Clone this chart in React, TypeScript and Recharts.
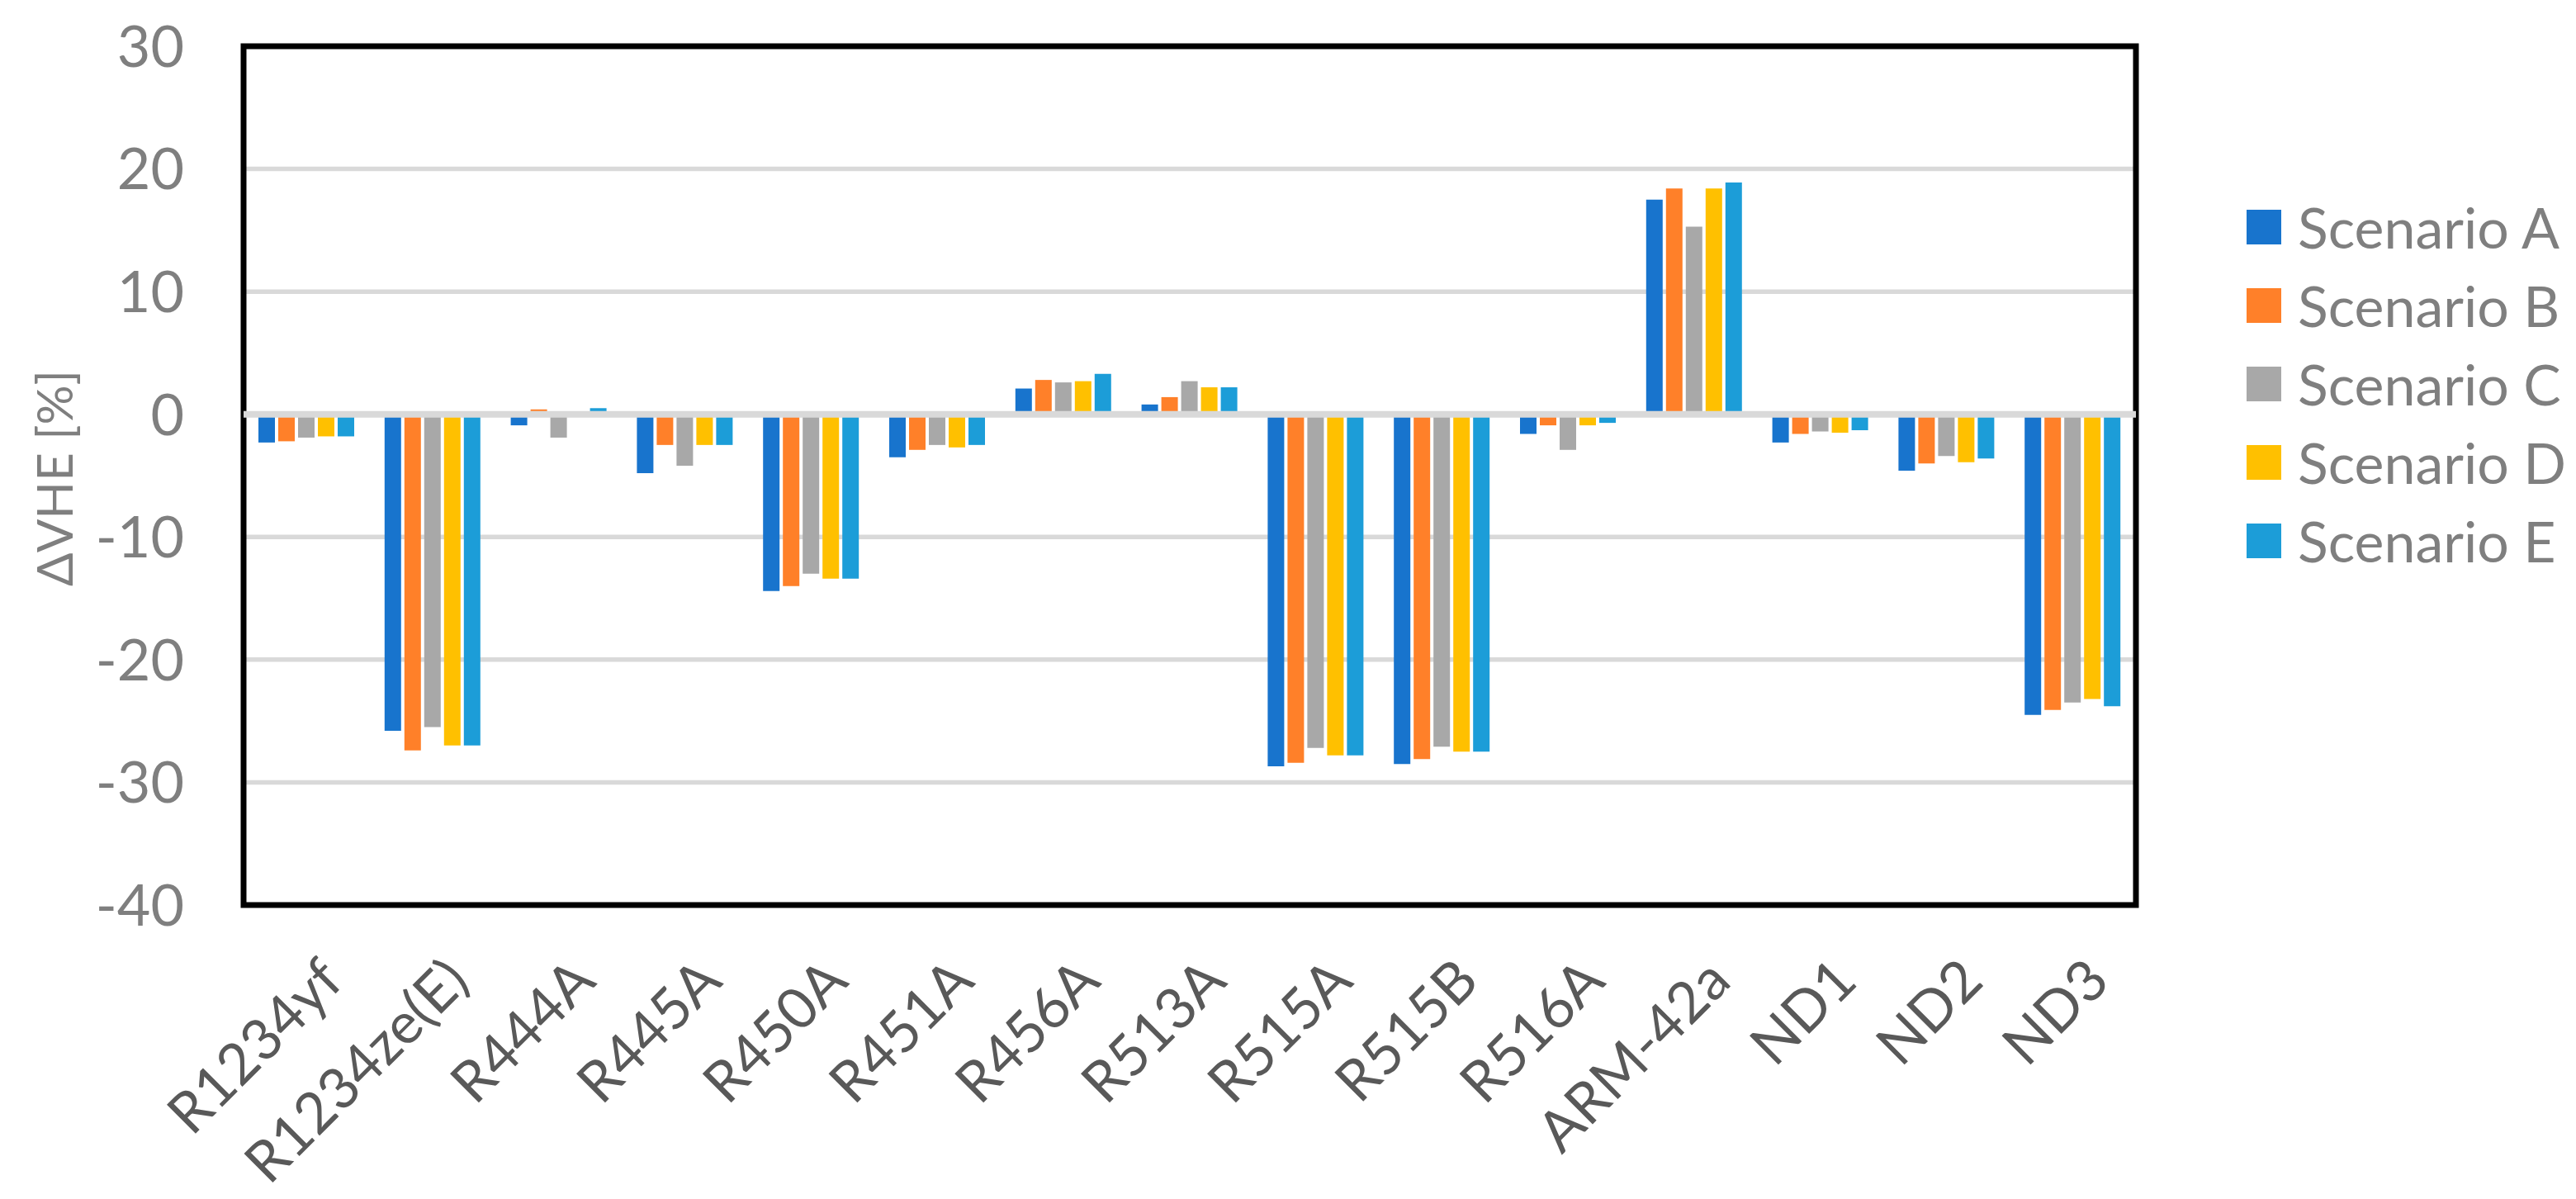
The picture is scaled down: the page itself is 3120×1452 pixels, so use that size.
import React from "react";
import {
    BarChart,
    Bar,
    XAxis,
    YAxis,
    CartesianGrid,
    ReferenceLine,
    ReferenceArea,
    Legend,
    Label,
} from "recharts";

// ---------------------------------------------------------------------------
// Data
// ---------------------------------------------------------------------------
const categories = [
    "R1234yf", "R1234ze(E)", "R444A", "R445A", "R450A", "R451A", "R456A", "R513A",
    "R515A", "R515B", "R516A", "ARM-42a", "ND1", "ND2", "ND3",
];
const scenarioA = [-2.3, -25.8, -0.9, -4.8, -14.4, -3.5, 2.1, 0.8, -28.7, -28.5, -1.6, 17.5, -2.3, -4.6, -24.5];
const scenarioB = [-2.2, -27.4, 0.4, -2.5, -14.0, -2.9, 2.8, 1.4, -28.4, -28.1, -0.9, 18.4, -1.6, -4.0, -24.1];
const scenarioC = [-1.9, -25.5, -1.9, -4.2, -13.0, -2.5, 2.6, 2.7, -27.2, -27.1, -2.9, 15.3, -1.4, -3.4, -23.5];
const scenarioD = [-1.8, -27.0, 0.2, -2.5, -13.4, -2.7, 2.7, 2.2, -27.8, -27.5, -0.9, 18.4, -1.5, -3.9, -23.2];
const scenarioE = [-1.8, -27.0, 0.5, -2.5, -13.4, -2.5, 3.3, 2.2, -27.8, -27.5, -0.7, 18.9, -1.3, -3.6, -23.8];
const yTicks = [-40, -30, -20, -10, 0, 10, 20, 30];

const SERIES = [
    { key: "a", name: "Scenario A", color: "#1874cd", values: scenarioA },
    { key: "b", name: "Scenario B", color: "#ff8029", values: scenarioB },
    { key: "c", name: "Scenario C", color: "#a8a8a8", values: scenarioC },
    { key: "d", name: "Scenario D", color: "#ffc000", values: scenarioD },
    { key: "e", name: "Scenario E", color: "#1c9dd8", values: scenarioE },
];

const chartData = categories.map((name, i) => {
    const row: Record<string, string | number> = { name };
    SERIES.forEach((s) => {
        row[s.key] = s.values[i];
    });
    return row;
});

const FONT = "Lato, 'Open Sans', sans-serif";

// rotated category labels, top-right corner sits near the category centre
const XTick = (props: any) => {
    const { x, y, payload } = props;
    const ax = x + 12;
    const ay = y + 60;
    return (
        <text
            x={ax}
            y={ay}
            dy="0.72em"
            textAnchor="end"
            transform={`rotate(-45, ${ax}, ${ay})`}
            fill="#595959"
            fontSize={69}
            fontFamily={FONT}
        >
            {payload.value}
        </text>
    );
};

const LegendContent = (props: any) => {
    const { payload = [] } = props;
    return (
        <div>
            {payload.map((entry: any) => (
                <div
                    key={entry.value}
                    style={{ display: "flex", alignItems: "center", height: 95 }}
                >
                    <span
                        style={{
                            display: "inline-block",
                            width: 42,
                            height: 42,
                            background: entry.color,
                            marginRight: 20,
                        }}
                    />
                    <span
                        style={{
                            fontFamily: FONT,
                            fontSize: 68,
                            color: "#7f7f7f",
                            lineHeight: "95px",
                            whiteSpace: "nowrap",
                        }}
                    >
                        {entry.value}
                    </span>
                </div>
            ))}
        </div>
    );
};

export default function App() {
    return (
        <div style={{ position: "absolute", left: 0, top: 0, background: "#fff" }}>
            <BarChart
                width={3120}
                height={1452}
                data={chartData}
                margin={{ top: 56, right: 533, left: 95, bottom: 0 }}
                barGap={4}
            >
                <CartesianGrid vertical={false} stroke="#d9d9d9" strokeWidth={5.5} />
                <XAxis
                    dataKey="name"
                    height={356}
                    axisLine={false}
                    tickLine={false}
                    tickSize={0}
                    tickMargin={0}
                    interval={0}
                    tick={<XTick />}
                />
                <YAxis
                    width={200}
                    domain={[-40, 30]}
                    ticks={yTicks}
                    axisLine={false}
                    tickLine={false}
                    tickSize={0}
                    tickMargin={72}
                    tick={{ fill: "#7f7f7f", fontSize: 70, fontFamily: FONT }}
                >
                    <Label
                        content={(p: any) => {
                            const vb = p.viewBox || { x: 95, y: 56, height: 1040 };
                            const cx = vb.x - 30;
                            const cy = vb.y + vb.height / 2 + 3;
                            return (
                                <text
                                    x={cx}
                                    y={cy}
                                    transform={`rotate(-90, ${cx}, ${cy})`}
                                    textAnchor="middle"
                                    dominantBaseline="central"
                                    fill="#7f7f7f"
                                    fontSize={60}
                                    fontFamily={FONT}
                                >
                                    ΔVHE [%]
                                </text>
                            );
                        }}
                    />
                </YAxis>
                {SERIES.map((s) => (
                    <Bar
                        key={s.key}
                        dataKey={s.key}
                        name={s.name}
                        fill={s.color}
                        barSize={20}
                        isAnimationActive={false}
                    />
                ))}
                <ReferenceLine y={0} stroke="#d9d9d9" strokeWidth={8} />
                <ReferenceArea
                    y1={-40}
                    y2={30}
                    fill="none"
                    fillOpacity={0}
                    stroke="#000"
                    strokeWidth={7}
                    ifOverflow="visible"
                />
                <Legend
                    layout="vertical"
                    align="center"
                    verticalAlign="middle"
                    width={400}
                    wrapperStyle={{ left: 2721, top: 227 }}
                    content={<LegendContent />}
                />
            </BarChart>
        </div>
    );
}
